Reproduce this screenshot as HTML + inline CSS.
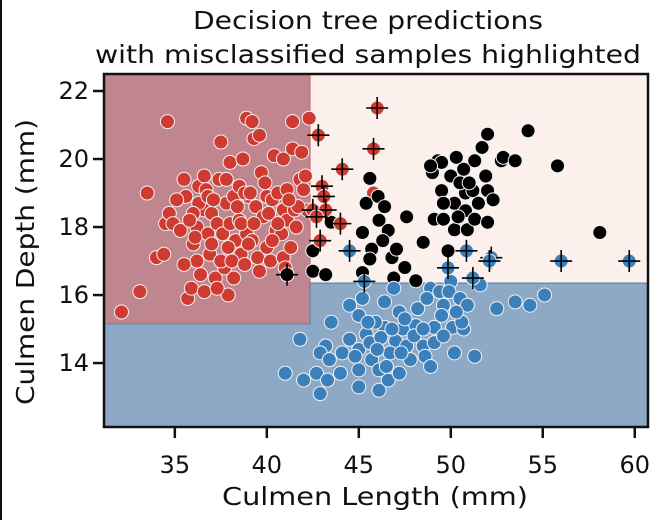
<!DOCTYPE html>
<html><head><meta charset="utf-8"><style>
html,body{margin:0;padding:0;background:#fff;}
svg{display:block;font-family:"DejaVu Sans","Liberation Sans",sans-serif;}
</style></head><body>
<svg id="chart" width="666" height="520" viewBox="0 0 666 520">
<rect x="0" y="0" width="2" height="520" fill="#111"/>
<text x="368" y="29" font-size="25" text-anchor="middle" fill="#111" textLength="350" lengthAdjust="spacingAndGlyphs">Decision tree predictions</text>
<text x="368" y="63" font-size="25" text-anchor="middle" fill="#111" textLength="546" lengthAdjust="spacingAndGlyphs">with misclassified samples highlighted</text>
<g id="regions"></g>
<g id="points"></g>
<rect x="104" y="74" width="544" height="353" fill="none" stroke="#111" stroke-width="2.5"/>
<g id="axes"></g>
<text x="375" y="505" font-size="25" text-anchor="middle" fill="#111" textLength="306" lengthAdjust="spacingAndGlyphs">Culmen Length (mm)</text>
<text x="0" y="0" font-size="25" text-anchor="middle" fill="#111" textLength="286" lengthAdjust="spacingAndGlyphs" transform="translate(34,262) rotate(-90)">Culmen Depth (mm)</text>
</svg>
<script>
const xTicks=[35,40,45,50,55,60];
const yTicks=[14,16,18,20,22];
const xDomain=[31.15,60.72];
const yDomain=[12.12,22.5];
const splitX=42.35;
const splitYLeft=15.15;
const splitYRight=16.35;
const adelie=[32.1,15.5,33.1,16.1,33.5,19.0,34.0,17.1,34.4,17.2,34.6,21.1,34.5,18.1,34.7,18.4,34.9,18.1,35.3,17.9,35.5,19.4,35.6,18.9,35.7,15.9,35.9,16.2,36.0,17.5,36.2,18.0,36.2,17.0,36.3,19.2,36.4,16.6,36.6,18.5,36.8,17.8,36.6,19.5,36.6,16.1,36.9,17.2,37.0,18.4,37.2,16.5,37.3,18.1,37.5,20.5,37.4,19.4,37.6,17.8,37.7,16.8,37.8,18.7,37.5,17.0,38.0,19.9,38.0,18.1,37.9,16.0,38.2,18.9,38.3,17.6,38.2,16.5,38.5,18.2,38.5,19.2,38.7,20.0,38.6,17.2,38.9,21.2,38.9,17.8,39.0,18.9,39.2,21.1,39.2,17.6,39.3,20.6,39.4,18.6,39.5,17.1,39.6,20.7,39.7,19.6,39.6,16.7,39.8,18.3,40.0,18.9,40.0,17.4,40.2,17.0,40.3,18.8,40.4,20.1,40.5,17.9,40.6,19.0,40.8,17.8,40.9,17.1,40.9,18.5,40.9,20.0,41.1,19.1,41.1,18.2,41.3,17.4,41.4,21.1,41.4,20.3,41.5,18.5,41.6,18.0,41.8,19.4,41.9,20.2,42.0,19.1,42.1,19.5,42.2,18.5,42.3,21.2,36.7,19.1,37.8,19.4,38.8,19.0,39.1,19.0,36.3,18.7,36.0,18.4,35.1,18.8,37.0,17.5,38.1,17.0,40.1,18.4,41.0,16.8,39.0,17.5,35.5,16.9,37.3,16.2,38.6,18.1,36.8,18.9,40.6,18.1,41.7,18.6,45.8,19.0,36.1,17.7,37.1,18.8,38.4,18.6,39.3,18.1,40.3,17.6,35.8,18.2,37.9,17.4,39.9,19.3,41.2,18.8,38.8,16.9];
const adelieWrong=[42.8,20.7,46.0,21.5,45.8,20.3,44.1,19.7,43.0,19.2,43.1,18.9,42.5,18.5,43.2,18.5,42.7,18.3,42.9,17.6,44.0,18.1];
const chinstrap=[42.5,17.3,42.5,16.7,43.2,16.6,43.5,18.14,45.2,17.84,45.2,16.66,45.6,19.43,45.4,18.7,46.05,18.9,46.4,18.6,46.1,18.2,46.6,17.9,46.3,17.6,45.7,17.35,45.6,17.06,46.8,17.1,47.05,17.35,47.5,16.81,46.9,16.5,47.6,18.3,48.5,17.55,48.1,16.42,49.1,18.23,49.6,18.23,49.85,17.3,49.0,19.6,49.3,19.95,49.5,19.07,50.3,20.05,50.0,19.5,50.7,19.7,50.8,19.0,50.2,18.7,49.6,18.7,50.2,17.92,50.9,17.92,51.2,19.07,50.8,18.48,51.3,19.95,51.9,19.5,51.5,18.7,52.0,19.07,52.3,18.8,51.3,18.23,52.0,18.14,51.7,20.34,52.0,20.73,52.75,19.95,52.85,20.05,53.5,19.95,54.2,20.83,55.8,19.8,58.1,17.84,49.5,19.9,50.5,19.3,51.0,19.3,50.4,18.3,48.9,19.8];
const chinstrapWrong=[41.1,16.6];
const gentoo=[51.6,16.3,50.0,16.4,48.9,16.2,49.4,16.1,49.9,16.1,50.5,15.9,50.9,15.7,52.5,15.6,53.5,15.8,54.3,15.7,55.1,16.0,46.9,16.2,46.4,15.8,44.5,15.7,45.2,15.9,45.0,15.4,47.2,15.5,48.2,15.6,43.5,15.2,45.4,14.85,46.4,15.05,47.4,15.0,48.1,15.1,49.1,15.05,50.1,15.05,50.7,15.0,50.6,15.2,44.5,14.7,45.0,14.4,45.6,14.6,46.2,14.75,47.0,14.65,47.6,14.5,48.5,14.5,49.1,14.6,43.2,14.5,42.9,14.3,43.4,14.1,44.0,13.7,42.7,13.7,43.3,13.5,42.9,13.1,45.0,13.8,45.0,13.3,46.1,13.2,46.6,13.5,47.2,13.7,45.7,14.1,46.7,14.3,47.8,14.1,48.6,14.2,50.2,14.3,51.3,14.2,42.0,13.5,41.8,14.7,46.1,13.8,48.0,14.8,49.6,14.8,48.7,15.9,49.6,15.7,50.3,15.5,45.9,15.2,44.1,14.3,41.0,13.7,46.8,15.0,47.5,15.3,48.5,15.0,46.0,14.4,47.3,14.3,48.9,13.9,49.5,15.4,45.5,15.2,44.8,14.2,46.5,13.9];
const gentooWrong=[44.5,17.3,50.85,17.3,52.2,17.1,52.1,17.0,49.85,16.8,51.2,16.5,56.0,17.0,59.7,17.0,45.3,16.4];

const L=104,R=648,T=74,B=427;
function sx(v){return L+(v-xDomain[0])/(xDomain[1]-xDomain[0])*(R-L);}
function sy(v){return B-(v-yDomain[0])/(yDomain[1]-yDomain[0])*(B-T);}
const NS='http://www.w3.org/2000/svg';
function mk(tag,attrs,parent){const e=document.createElementNS(NS,tag);for(const k in attrs)e.setAttribute(k,attrs[k]);parent.appendChild(e);return e;}

const reg=document.getElementById('regions');
let r;
r=mk('rect',{x:L,y:T,width:R-L,height:B-T,fill:'#fbf0eb'},reg);


r=mk('rect',{x:L,y:T,width:sx(splitX)-L,height:sy(splitYLeft)-T,fill:'#c0868f',stroke:'#c9665f','stroke-width':1},reg);


r=mk('path',{d:`M${L},${sy(splitYLeft)}H${sx(splitX)}V${sy(splitYRight)}H${R}V${B}H${L}Z`,fill:'#8ea9c5',stroke:'#5f86b0','stroke-width':1.2},reg);



const pts=document.getElementById('points');
function draw(arr,color,name,cross){
  for(let i=0;i<arr.length;i+=2){
    const cx=sx(arr[i]),cy=sy(arr[i+1]);
    const c=mk('circle',{cx:cx,cy:cy,r:7,fill:color,stroke:'#f2f2f2','stroke-width':1},pts);
    
    
    if(cross){
      const p=mk('path',{d:`M${cx-11},${cy}H${cx+11}M${cx},${cy-11}V${cy+11}`,stroke:'#000','stroke-width':1.6},pts);
      
      
    }
  }
}
draw(adelie,'#cf3a31','adelie-point',false);
draw(chinstrap,'#000','chinstrap-point',false);
draw(gentoo,'#3c80bb','gentoo-point',false);
draw(adelieWrong,'#cf3a31','adelie-misclassified',true);
draw(chinstrapWrong,'#000','chinstrap-misclassified',true);
draw(gentooWrong,'#3c80bb','gentoo-misclassified',true);

const ax=document.getElementById('axes');
xTicks.forEach(t=>{
  const x=sx(t);
  const l=mk('line',{x1:x,x2:x,y1:B,y2:B+11,stroke:'#111','stroke-width':2.5},ax);
  
  
  const tx=mk('text',{x:x,y:473,'font-size':24,'text-anchor':'middle',fill:'#111'},ax);
  tx.textContent=t;
  
  
});
yTicks.forEach(t=>{
  const y=sy(t);
  const l=mk('line',{x1:L-11,x2:L,y1:y,y2:y,stroke:'#111','stroke-width':2.5},ax);
  
  
  const tx=mk('text',{x:L-15,y:y+8,'font-size':24,'text-anchor':'end',fill:'#111'},ax);
  tx.textContent=t;
  
  
});
</script>
</body></html>
